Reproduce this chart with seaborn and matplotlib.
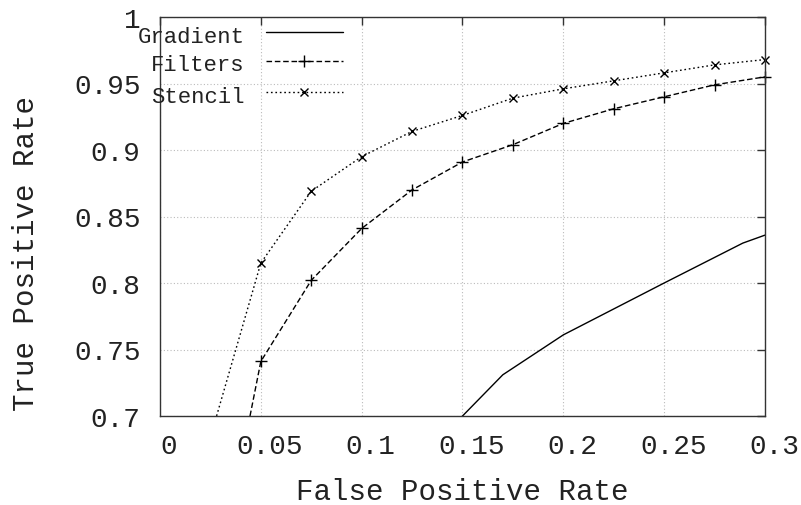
import numpy as np
import pandas as pd
import matplotlib
matplotlib.use("Agg")
import matplotlib.pyplot as plt
import matplotlib.transforms as mtransforms
import seaborn as sns


# data

fpr_gradient = [0.14, 0.17, 0.20, 0.25, 0.289, 0.30]
tpr_gradient = [0.6845, 0.731, 0.761, 0.800, 0.830, 0.836]

fpr_points = [0.025, 0.05, 0.075, 0.1, 0.125, 0.15, 0.175, 0.2, 0.225, 0.25, 0.275, 0.3]
tpr_filters = [0.55, 0.741, 0.802, 0.841, 0.870, 0.891, 0.904, 0.920, 0.931, 0.940, 0.949, 0.955]
tpr_stencil = [0.684, 0.815, 0.869, 0.895, 0.914, 0.926, 0.939, 0.946, 0.952, 0.958, 0.964, 0.968]

series_names = ["Gradient", "Filters", "Stencil"]

x_ticks = [0, 0.05, 0.1, 0.15, 0.2, 0.25, 0.3]
x_tick_labels = ["0", "0.05", "0.1", "0.15", "0.2", "0.25", "0.3"]
y_ticks = [0.7, 0.75, 0.8, 0.85, 0.9, 0.95, 1.0]
y_tick_labels = ["0.7", "0.75", "0.8", "0.85", "0.9", "0.95", "1"]


sns.set_style("white")
plt.rcParams["font.family"] = ["Liberation Mono", "DejaVu Sans Mono"]

fig = plt.figure(figsize=(8.01, 5.06), dpi=100)
ax = fig.add_axes([160 / 801, 89 / 506, 605 / 801, 399 / 506])

styles = {
    "Gradient": dict(linestyle="-", marker=None, ms=0),
    "Filters": dict(linestyle=(0, (4, 2)), marker="+", ms=8),
    "Stencil": dict(linestyle=(0, (1.2, 2)), marker="x", ms=6),
}
series_x = {"Gradient": fpr_gradient, "Filters": fpr_points, "Stencil": fpr_points}
series_y = {"Gradient": tpr_gradient, "Filters": tpr_filters, "Stencil": tpr_stencil}

for name in series_names:
    st = styles[name]
    sns.lineplot(x=series_x[name], y=series_y[name], ax=ax, color="black",
                 lw=1.0, sort=False, linestyle=st["linestyle"])
    if st["marker"]:
        # markers drawn on their own so the ones on the frame are not cut
        df = pd.DataFrame({"x": series_x[name], "y": series_y[name]})
        df = df[df["y"] >= 0.7]
        ax.plot(df["x"], df["y"], linestyle="none", marker=st["marker"],
                markersize=st["ms"], markeredgewidth=1.0, color="black",
                clip_on=False)

ax.set_xlim(0, 0.3)
ax.set_ylim(0.7, 1.0)
ax.set_xticks(x_ticks)
ax.set_xticklabels(x_tick_labels)
ax.set_yticks(y_ticks)
ax.set_yticklabels(y_tick_labels)

ax.tick_params(direction="in", length=6, width=1, color="#333333",
               top=True, right=True, labelsize=20, labelcolor="#222222")
ax.tick_params(axis="x", pad=12)
ax.tick_params(axis="y", pad=14)

# gnuplot puts the x tick labels a bit to the right
shift = mtransforms.ScaledTranslation(9 / 100, 0, fig.dpi_scale_trans)
for lab in ax.get_xticklabels():
    lab.set_transform(lab.get_transform() + shift)

ax.grid(True, color="#bbbbbb", linestyle=(0, (1, 2)), lw=0.8)
for sp in ax.spines.values():
    sp.set_color("#333333")
    sp.set_linewidth(1.0)

ax.set_xlabel("False Positive Rate", fontsize=21, color="#222222")
ax.set_ylabel("True Positive Rate", fontsize=21, color="#222222")
ax.xaxis.set_label_coords(0.5, -0.152)
ax.yaxis.set_label_coords(-0.198, 0.41)

# gnuplot style key: text right aligned, sample on the right
key_rows = [0.962, 0.890, 0.812]
for name, yrow in zip(series_names, key_rows):
    st = styles[name]
    ax.plot([0.175, 0.302], [yrow, yrow], transform=ax.transAxes, color="black",
            lw=1.0, linestyle=st["linestyle"], clip_on=False)
    if st["marker"]:
        ax.plot([0.2385], [yrow], transform=ax.transAxes, color="black",
                marker=st["marker"], markersize=st["ms"],
                markeredgewidth=1.0, clip_on=False)
    ax.text(0.14, yrow - 0.01, name, transform=ax.transAxes, ha="right",
            va="center", fontsize=16, color="#222222")

fig.savefig("out.png", dpi=100)
plt.close(fig)
